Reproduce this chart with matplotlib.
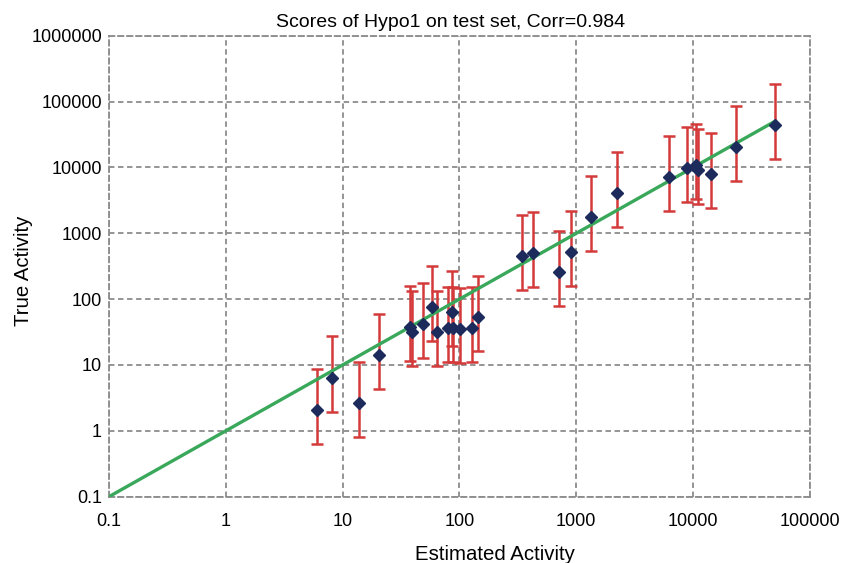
import matplotlib
matplotlib.use("Agg")
import matplotlib.pyplot as plt
import numpy as np

plt.rcParams['font.family'] = ['Liberation Sans', 'DejaVu Sans']

# estimated vs. true activity
estimated = [6.0, 8.1, 13.9, 20.4, 37.4, 39.3, 48.5, 58.6, 64.7, 79.4, 85.9, 88.7,
             101, 127, 145, 341, 429, 717, 902, 1330, 2220, 6270, 8830, 10600,
             11100, 14200, 23400, 49700]
true_act = [2.07, 6.45, 2.62, 14.3, 37.7, 31.7, 41.9, 76.7, 31.3, 36.8, 63.1, 36.1,
            35.2, 36.8, 53.0, 456, 496, 261, 514, 1750, 4130, 7230, 9890, 10870,
            9140, 7860, 20600, 44000]
# error bars are a constant fold range in log space
err_up = 4.2
err_down = 3.3

fit_x = [0.1, 50000]

xticks = [0.1, 1, 10, 100, 1000, 10000, 100000]
xtick_labels = ["0.1", "1", "10", "100", "1000", "10000", "100000"]
yticks = [0.1, 1, 10, 100, 1000, 10000, 100000, 1000000]
ytick_labels = ["0.1", "1", "10", "100", "1000", "10000", "100000", "1000000"]

x = np.array(estimated)
y = np.array(true_act)

fig = plt.figure(figsize=(8.44, 5.63), dpi=100)
ax = fig.add_axes([0.1291, 0.1178, 0.8306, 0.8188])

ax.set_xscale("log")
ax.set_yscale("log")
ax.set_xlim(0.1, 100000)
ax.set_ylim(0.1, 1000000)

grid_color = "#8c8c8c"
ax.grid(True, which="major", color=grid_color, linestyle=(0, (3, 2)), linewidth=1.3)
ax.minorticks_off()
for sp in ax.spines.values():
    sp.set_color(grid_color)
    sp.set_linestyle((0, (3, 2)))
    sp.set_linewidth(1.3)

ax.errorbar(x, y, yerr=[y - y / err_down, y * err_up - y], fmt="none",
            ecolor="#d43a3a", elinewidth=1.8, capsize=4.5, capthick=1.8, zorder=2)
ax.plot(fit_x, fit_x, color="#3aa85a", linewidth=2.4, zorder=3)
ax.plot(x, y, "D", color="#1c2a5c", markersize=6.5, zorder=4)

ax.set_xticks(xticks)
ax.set_xticklabels(xtick_labels)
ax.set_yticks(yticks)
ax.set_yticklabels(ytick_labels)
ax.tick_params(axis="both", length=0, labelsize=13)
ax.tick_params(axis="x", pad=12)
ax.tick_params(axis="y", pad=5)

ax.set_title("Scores of Hypo1 on test set, Corr=0.984", fontsize=14, pad=6, x=0.487)
ax.set_xlabel("Estimated Activity", fontsize=14.7)
ax.set_ylabel("True Activity", fontsize=14.7)
ax.xaxis.set_label_coords(0.551, -0.105)
ax.yaxis.set_label_coords(-0.108, 0.49)

fig.savefig("out.png", dpi=100)
